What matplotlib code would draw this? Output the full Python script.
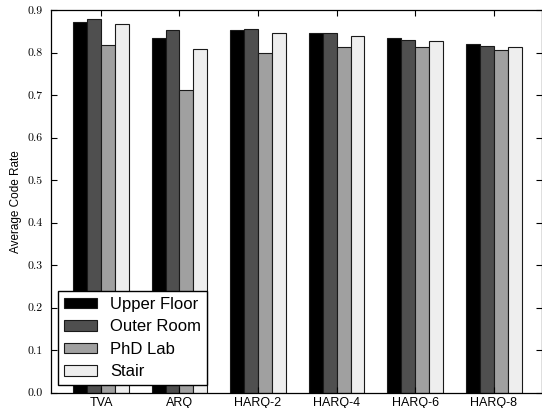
import numpy as np
import matplotlib.pyplot as plt

schemes = ['TVA', 'ARQ', 'HARQ-2', 'HARQ-4', 'HARQ-6', 'HARQ-8']
upper_floor = [0.872, 0.833, 0.854, 0.847, 0.833, 0.819]
outer_room = [0.878, 0.852, 0.855, 0.845, 0.830, 0.816]
phd_lab = [0.818, 0.712, 0.798, 0.812, 0.813, 0.807]
stair = [0.868, 0.809, 0.845, 0.838, 0.826, 0.813]

series = [upper_floor, outer_room, phd_lab, stair]
names = ['Upper Floor', 'Outer Room', 'PhD Lab', 'Stair']
shades = ['#000000', '#4f4f4f', '#a0a0a0', '#eeeeee']

fig = plt.figure(figsize=(5.42, 4.08), dpi=100)
ax = fig.add_axes([50.7 / 542, 15.3 / 408, 490.8 / 542, 382.7 / 408])

x = np.arange(1, len(schemes) + 1)
w = 0.178
for i, (vals, name, c) in enumerate(zip(series, names, shades)):
    ax.bar(x + (i - 1.5) * w, vals, width=w, color=c, edgecolor='#1a1a1a',
           linewidth=0.8, label=name)

ax.set_xlim(0.36, 6.61)
ax.set_ylim(0, 0.9)
ax.set_xticks(x)
ax.set_xticklabels(schemes, fontsize=9, family='Liberation Sans')
ax.set_yticks(np.arange(0, 0.91, 0.1))
ax.set_yticklabels(['%.1f' % v for v in np.arange(0, 0.91, 0.1)],
                   fontsize=8.5, family='cmr10')
ax.tick_params(direction='in', length=4, width=0.8, top=True, right=True)
ax.tick_params(axis='x', pad=3)
ax.tick_params(axis='y', pad=6)
for s in ax.spines.values():
    s.set_linewidth(0.9)

ax.set_ylabel('Average Code Rate', fontsize=8.5, family='Liberation Sans',
              labelpad=4)

leg = ax.legend(loc='lower left', bbox_to_anchor=(0.0155, 0.020),
                borderaxespad=0, fancybox=False, edgecolor='black',
                prop={'family': 'Liberation Sans', 'size': 12},
                handlelength=2.0, handleheight=0.6, handletextpad=0.75,
                borderpad=0.35, labelspacing=0.45)
leg.get_frame().set_linewidth(1.0)
leg.get_frame().set_alpha(1)

fig.savefig('out.png', dpi=100)
